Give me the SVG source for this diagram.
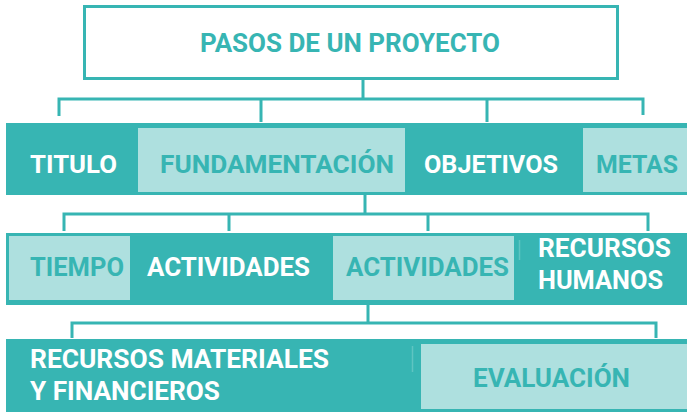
<svg xmlns="http://www.w3.org/2000/svg" width="687" height="412" viewBox="0 0 687 412">
<style>
.band{fill:#37b5b3}
.light{fill:#aee0df}
.conn{fill:none;stroke:#37b5b3;stroke-width:3}
text{font-family:Roboto,"Liberation Sans",sans-serif;font-weight:700;font-size:25px}
.w{fill:#ffffff}
.t{fill:#37b5b3}
.r1{font-size:26.5px}
.r3{font-size:26px}
.sep{stroke:#5fc4c2;stroke-width:1.5}
</style>
<rect width="687" height="412" fill="#ffffff"/>
<g id="connectors">
<path class="conn" d="M363 78V99M59 116V99H643V115M261 99V122M487 99V122"/>
<path class="conn" d="M365 195V214M64 231V214H648V231M229 214V231M428 214V231"/>
<path class="conn" d="M368 305V323M72 338V323H656V338"/>
</g>
<g id="title">
<rect x="84.5" y="6.5" width="533" height="72" fill="#ffffff" stroke="#37b5b3" stroke-width="3"/>
<text class="t" x="200" y="52" textLength="300" lengthAdjust="spacingAndGlyphs" font-size="26">PASOS DE UN PROYECTO</text>
</g>
<g id="row1">
<rect class="band" x="6" y="123" width="681" height="72"/>
<g id="titulo"><text class="w r1" x="30" y="173" textLength="87" lengthAdjust="spacingAndGlyphs">TITULO</text></g>
<g id="fundamentacion"><rect class="light" x="138" y="128" width="267" height="64"/>
<text class="t r1" x="160" y="173" textLength="234" lengthAdjust="spacingAndGlyphs">FUNDAMENTACIÓN</text></g>
<g id="objetivos"><text class="w r1" x="424" y="173" textLength="134" lengthAdjust="spacingAndGlyphs">OBJETIVOS</text></g>
<g id="metas"><rect class="light" x="583" y="128" width="104" height="64"/>
<text class="t r1" x="596" y="173" textLength="82" lengthAdjust="spacingAndGlyphs">METAS</text></g>
</g>
<g id="row2">
<rect class="band" x="6" y="233" width="681" height="72"/>
<g id="tiempo"><rect class="light" x="9" y="236" width="121" height="64"/>
<text class="t" x="30" y="276" textLength="94" lengthAdjust="spacingAndGlyphs">TIEMPO</text></g>
<g id="actividades1"><text class="w" x="147" y="276" textLength="163" lengthAdjust="spacingAndGlyphs">ACTIVIDADES</text></g>
<g id="actividades2"><rect class="light" x="333" y="236" width="181" height="64"/>
<text class="t" x="346" y="276" textLength="163" lengthAdjust="spacingAndGlyphs">ACTIVIDADES</text></g>
<g id="recursos-humanos"><line class="sep" x1="519.5" y1="240" x2="519.5" y2="260"/>
<text class="w" x="538" y="257" textLength="133" lengthAdjust="spacingAndGlyphs">RECURSOS</text>
<text class="w" x="538" y="289" textLength="125" lengthAdjust="spacingAndGlyphs">HUMANOS</text></g>
</g>
<g id="row3">
<rect class="band" x="6" y="339" width="681" height="73"/>
<g id="recursos-materiales"><line class="sep" x1="412.5" y1="346" x2="412.5" y2="372"/>
<text class="w r3" x="30" y="368" textLength="299" lengthAdjust="spacingAndGlyphs">RECURSOS MATERIALES</text>
<text class="w r3" x="30" y="400" textLength="190" lengthAdjust="spacingAndGlyphs">Y FINANCIEROS</text></g>
<g id="evaluacion"><rect class="light" x="421" y="344" width="266" height="65"/>
<text class="t r3" x="473" y="387" textLength="157" lengthAdjust="spacingAndGlyphs">EVALUACIÓN</text></g>
</g>
</svg>
